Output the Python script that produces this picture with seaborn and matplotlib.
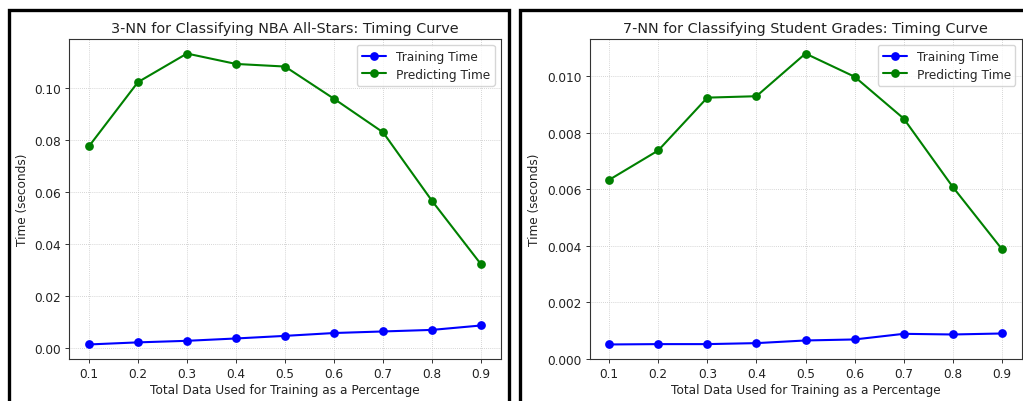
import matplotlib
matplotlib.use("Agg")
import matplotlib.pyplot as plt
from matplotlib.patches import Rectangle
import numpy as np
import pandas as pd
import seaborn as sns

# Fraction of the data used for training
train_fraction = [0.1, 0.2, 0.3, 0.4, 0.5, 0.6, 0.7, 0.8, 0.9]

# 3-NN on NBA All-Stars (seconds)
nba_training = [0.0014, 0.0022, 0.0028, 0.0037, 0.0047, 0.0058, 0.0064, 0.0070, 0.0087]
nba_predicting = [0.0776, 0.1023, 0.1133, 0.1093, 0.1083, 0.0959, 0.0830, 0.0566, 0.0322]

# 7-NN on student grades (seconds)
grades_training = [0.000505, 0.000517, 0.000517, 0.000552, 0.000646, 0.000682, 0.000881, 0.000858, 0.000893]
grades_predicting = [0.00633, 0.00737, 0.00924, 0.00929, 0.01080, 0.00998, 0.00850, 0.00608, 0.00388]

series_names = ["Training Time", "Predicting Time"]
series_colors = {"Training Time": "blue", "Predicting Time": "green"}

titles = [
    "3-NN for Classifying NBA All-Stars: Timing Curve",
    "7-NN for Classifying Student Grades: Timing Curve",
]
x_label = "Total Data Used for Training as a Percentage"
y_label = "Time (seconds)"

sns.set_style("ticks")
plt.rcParams["font.family"] = ["DejaVu Sans"]

W, H = 1023, 402
fig = plt.figure(figsize=(W / 100, H / 100), dpi=100)
fig.patch.set_facecolor("white")


def long_frame(train, predict):
    return pd.DataFrame({
        "x": train_fraction * 2,
        "time": list(train) + list(predict),
        "series": [series_names[0]] * len(train) + [series_names[1]] * len(predict),
    })


def px_axes(left, right, top, bottom):
    return fig.add_axes([left / W, 1 - bottom / H, (right - left) / W, (bottom - top) / H])


panels = [
    (px_axes(69.3, 500.7, 40, 360), long_frame(nba_training, nba_predicting), titles[0], "%.2f"),
    (px_axes(589.5, 1021.5, 40, 360), long_frame(grades_training, grades_predicting), titles[1], "%.3f"),
]

for ax, df, title, fmt in panels:
    sns.lineplot(
        data=df, x="x", y="time", hue="series", hue_order=series_names,
        palette=series_colors, marker="o", markersize=6.3, markeredgewidth=0,
        linewidth=1.5, ax=ax, legend=True,
    )
    ax.set_xticks(train_fraction)
    ax.set_xticklabels([f"{v:.1f}" for v in train_fraction])
    ax.yaxis.set_major_formatter(matplotlib.ticker.FormatStrFormatter(fmt))
    ax.margins(x=0.05, y=0.05)
    ax.set_xlim(0.06, 0.94)
    ax.grid(True, linestyle=(0, (1, 1.5)), color="#c8c8c8", linewidth=0.6)
    ax.set_axisbelow(True)
    for s in ax.spines.values():
        s.set_color("#333333")
        s.set_linewidth(0.8)
    ax.tick_params(axis="both", labelsize=8.7, length=3, width=0.7, color="#333333", pad=3, labelcolor="#222222")
    ax.set_title(title, fontsize=10.4, pad=5, color="#222222")
    ax.set_xlabel(x_label, fontsize=8.7, labelpad=2, color="#222222")
    ax.set_ylabel(y_label, fontsize=8.7, labelpad=4, color="#222222")
    leg = ax.legend(loc="upper right", fontsize=8.7, frameon=True, fancybox=True,
                    framealpha=0.8, edgecolor="#cccccc", borderpad=0.4,
                    handlelength=2.0, labelspacing=0.4)
    leg.set_title(None)

# Black frames around each panel
fig.add_artist(Rectangle((9 / W, -0.1), (508.5 - 9) / W, 1.1 - 10.5 / H,
                         transform=fig.transFigure, fill=False, edgecolor="black", linewidth=2.4))
fig.add_artist(Rectangle((519.5 / W, -0.1), 0.6, 1.1 - 10.5 / H,
                         transform=fig.transFigure, fill=False, edgecolor="black", linewidth=2.4))

fig.savefig("out.png", dpi=100)
